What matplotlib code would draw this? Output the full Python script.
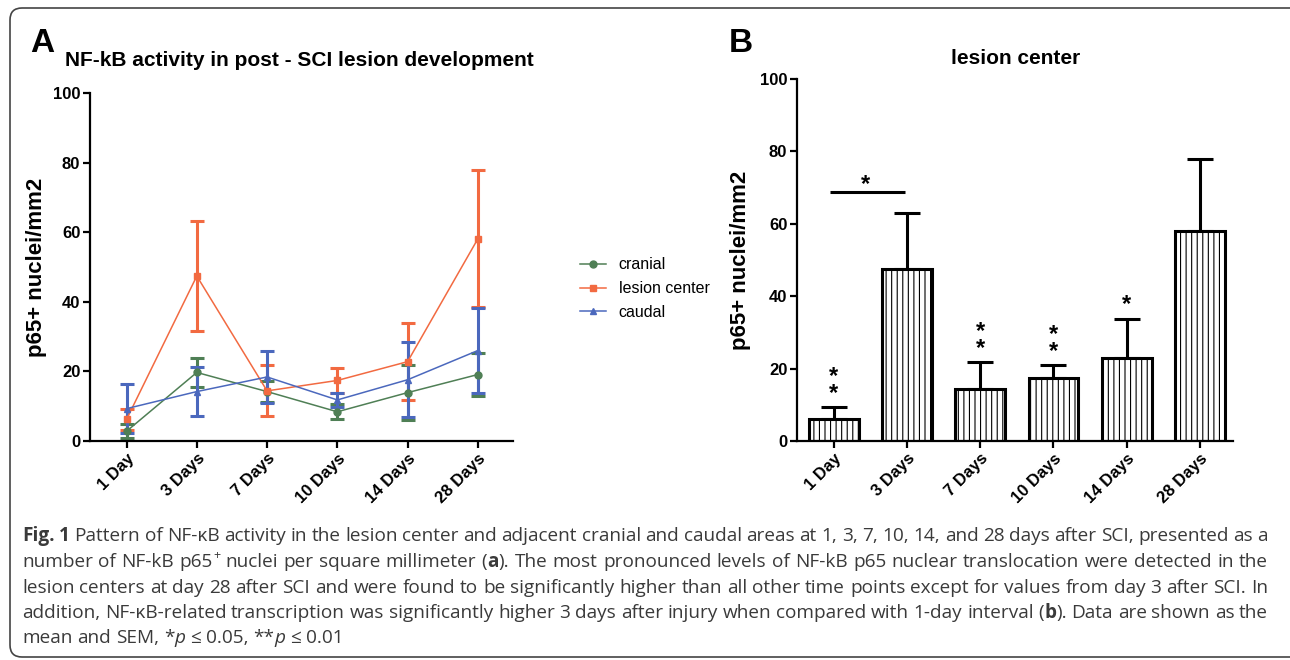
import re
import matplotlib
matplotlib.use("Agg")
import matplotlib.pyplot as plt
import matplotlib.patches as patches

plt.rcParams['font.family'] = ['Liberation Sans', 'DejaVu Sans']
plt.rcParams['hatch.linewidth'] = 0.8

# ---- data ----
days = ['1 Day', '3 Days', '7 Days', '10 Days', '14 Days', '28 Days']

cranial = [2.8, 19.7, 14.2, 8.4, 13.9, 19.1]
cranial_sem = [2.0, 4.1, 3.0, 2.1, 7.9, 6.3]

lesion = [6.2, 47.4, 14.4, 17.4, 22.8, 58.1]
lesion_sem = [3.1, 15.7, 7.3, 3.5, 11.0, 19.7]

caudal = [9.3, 14.2, 18.4, 11.8, 17.6, 26.0]
caudal_sem = [7.0, 7.0, 7.5, 2.1, 10.8, 12.2]

# significance marks for panel B (stars above error bars)
stars = ['**', '', '**', '**', '*', '']
bracket_y = 68.8

caption = [
    "{b:Fig.} {b:1} Pattern of NF-κB activity in the lesion center and adjacent cranial and caudal areas at 1, 3, 7, 10, 14, and 28 days after SCI, presented as a",
    "number of NF-kB p65{sup:+} nuclei per square millimeter ({b:a}). The most pronounced levels of NF-kB p65 nuclear translocation were detected in the",
    "lesion centers at day 28 after SCI and were found to be significantly higher than all other time points except for values from day 3 after SCI. In",
    "addition, NF-κB-related transcription was significantly higher 3 days after injury when compared with 1-day interval ({b:b}). Data are shown as the",
    "mean and SEM, *{i:p} ≤ 0.05, **{i:p} ≤ 0.01",
]

W, H = 1290, 660
fig = plt.figure(figsize=(12.9, 6.6), dpi=100)


def fx(px):
    return px / W


def fy(py):
    return 1 - py / H


# outer frame
fig.patches.append(patches.FancyBboxPatch(
    (0.10, 0.03), 13.0, 6.49, boxstyle='round,pad=0,rounding_size=0.12',
    transform=fig.dpi_scale_trans, fc='white', ec='#444444', lw=1.2, zorder=-5))

x = list(range(len(days)))

# ---------------- panel A ----------------
axA = fig.add_axes([fx(90), fy(441), fx(513 - 90), (441 - 93) / H])
series = [
    ('cranial', cranial, cranial_sem, '#4f7f55', 'o'),
    ('lesion center', lesion, lesion_sem, '#f26a41', 's'),
    ('caudal', caudal, caudal_sem, '#4b68bd', '^'),
]
handles, names = [], []
for name, vals, err, col, mk in series:
    c = axA.errorbar(x, vals, yerr=err, color=col, marker=mk, ms=5, lw=1.1,
                     elinewidth=2.2, capsize=5, capthick=2.2)
    handles.append(c[0])
    names.append(name)

axA.set_xlim(-0.52, 5.5)
axA.set_ylim(0, 100)
axA.set_yticks(range(0, 101, 20))
axA.set_xticks(x)
axA.set_xticklabels(days, rotation=45, ha='right', rotation_mode='anchor')
axA.set_ylabel('p65+ nuclei/mm2', fontsize=16, fontweight='bold', labelpad=4)
axA.legend(handles, names, loc='upper left', bbox_to_anchor=(fx(566), fy(243)),
           bbox_transform=fig.transFigure, frameon=False, fontsize=11.5,
           handlelength=1.6, handletextpad=0.8, labelspacing=0.55)

# ---------------- panel B ----------------
axB = fig.add_axes([fx(797), fy(441), fx(1233 - 797), (441 - 79) / H])
axB.bar(x, lesion, width=0.68, color='white', edgecolor='black', lw=2.2,
        hatch='|||', zorder=2)
axB.errorbar(x, lesion, yerr=[[0] * len(x), lesion_sem], fmt='none',
             ecolor='black', elinewidth=2.2, capsize=9.5, capthick=2.2, zorder=1)
for i, s in enumerate(stars):
    if s:
        top = lesion[i] + lesion_sem[i]
        axB.text(x[i], top + 0.6, '\n'.join(s), ha='center', va='bottom',
                 fontsize=17, fontweight='bold', linespacing=0.68)
axB.plot([-0.05, 0.97], [bracket_y, bracket_y], color='black', lw=2.2,
         solid_capstyle='butt')
axB.text(0.44, bracket_y + 0.3, '*', ha='center', va='baseline', fontsize=17,
         fontweight='bold')

axB.set_xlim(-0.5, 5.45)
axB.set_ylim(0, 100)
axB.set_yticks(range(0, 101, 20))
axB.set_xticks(x)
axB.set_xticklabels(days, rotation=45, ha='right', rotation_mode='anchor')
axB.set_ylabel('p65+ nuclei/mm2', fontsize=16, fontweight='bold', labelpad=6)

for ax in (axA, axB):
    for side in ('top', 'right'):
        ax.spines[side].set_visible(False)
    for side in ('left', 'bottom'):
        ax.spines[side].set_linewidth(1.6)
    ax.tick_params(width=1.6, length=5, labelsize=12, pad=2)
    for lab in ax.get_xticklabels() + ax.get_yticklabels():
        lab.set_fontweight('bold')

# titles and panel letters
fig.text(fx(299), fy(60), 'NF-kB activity in post - SCI lesion development',
         ha='center', va='center', fontsize=15, fontweight='bold')
fig.text(fx(1016), fy(58), 'lesion center', ha='center', va='center',
         fontsize=15, fontweight='bold')
fig.text(fx(30), fy(43), 'A', ha='left', va='center', fontsize=24, fontweight='bold')
fig.text(fx(729), fy(43), 'B', ha='left', va='center', fontsize=24, fontweight='bold')

# ---------------- caption (justified) ----------------
cap_font = ['Open Sans', 'DejaVu Sans']
cap_size = 13.7
cap_color = '#3a3a3a'
renderer = fig.canvas.get_renderer()
tag = re.compile(r'\{(b|i|sup):([^}]*)\}')


def segments(word):
    out, pos = [], 0
    for m in tag.finditer(word):
        if m.start() > pos:
            out.append((word[pos:m.start()], 'n'))
        out.append((m.group(2), m.group(1)))
        pos = m.end()
    if pos < len(word):
        out.append((word[pos:], 'n'))
    return out


def make_text(s, kind):
    kw = dict(family=cap_font, fontsize=cap_size, color=cap_color, va='baseline')
    if kind == 'b':
        kw['fontweight'] = 'bold'
    elif kind == 'i':
        kw['fontstyle'] = 'italic'
    elif kind == 'sup':
        kw['fontsize'] = cap_size * 0.65
    return fig.text(0, 0, s, **kw)


def width_px(t):
    return t.get_window_extent(renderer).width


sp = make_text('a a', 'n')
nsp = make_text('aa', 'n')
space_w = width_px(sp) - width_px(nsp)
sp.remove()
nsp.remove()

x_left, x_right = 22, 1268
line_y = [541, 567, 593, 618, 643]
for li, line in enumerate(caption):
    words = []
    for w in line.split(' '):
        parts = []
        for s, kind in segments(w):
            t = make_text(s, kind)
            parts.append((t, kind, width_px(t)))
        words.append(parts)
    widths = [sum(p[2] for p in wd) for wd in words]
    gap = space_w
    if li < len(caption) - 1 and len(words) > 1:
        gap = (x_right - x_left - sum(widths)) / (len(words) - 1)
    cx = x_left
    for wd, ww in zip(words, widths):
        for t, kind, tw in wd:
            yy = line_y[li] - (8 if kind == 'sup' else 0)
            t.set_position((fx(cx), fy(yy)))
            cx += tw
        cx += gap

fig.savefig('out.png', dpi=100)
